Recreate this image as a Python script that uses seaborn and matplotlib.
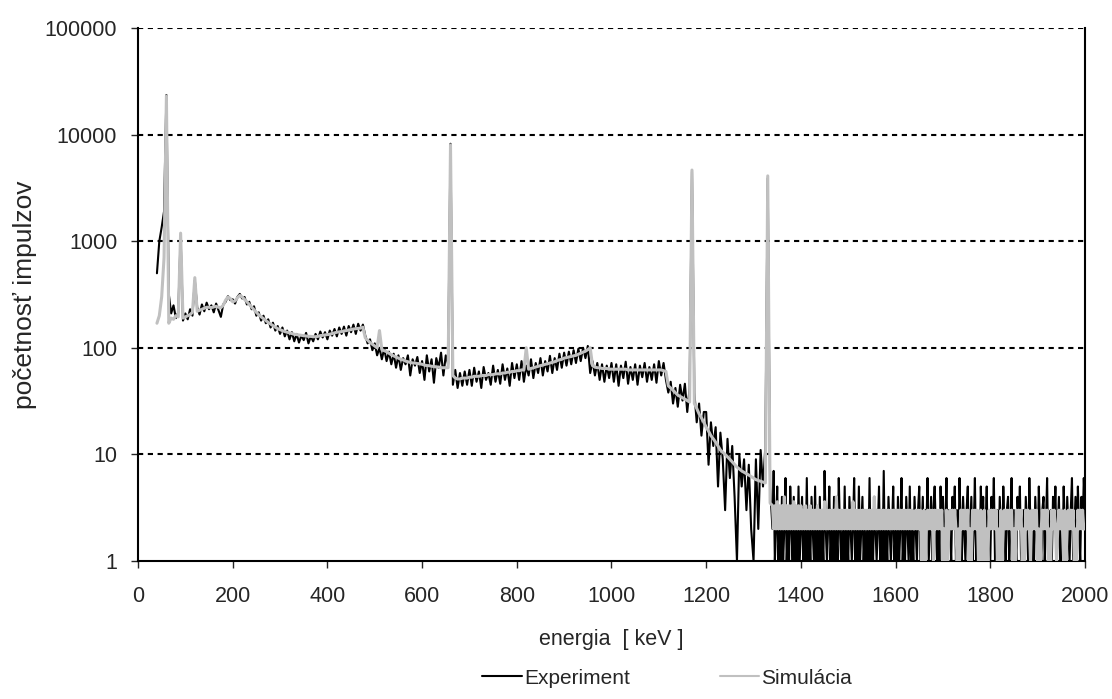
import numpy as np
import pandas as pd
import seaborn as sns
import matplotlib.pyplot as plt
from matplotlib.ticker import FixedLocator, FixedFormatter, NullLocator

# energia kanalov: krok 5 keV do 1335 keV, potom 2.5 keV
energia_hlavna = np.arange(40, 1336, 5)
energia_chvost = np.arange(1340, 2000.1, 2.5)

# Experiment - po 100 keV usekoch
exp_40 = [500, 1000, 1350, 1900, 23500, 320, 210, 250, 190, 215, 1100, 180]
exp_100 = [210, 185, 230, 200, 430, 240, 205, 255, 220, 265, 230, 250, 215, 260, 225, 195, 255, 270, 305, 280]
exp_200 = [285, 260, 300, 320, 290, 300, 255, 270, 230, 245, 200, 215, 180, 200, 170, 185, 155, 172, 145, 160]
exp_300 = [135, 155, 128, 145, 120, 140, 115, 135, 112, 130, 118, 138, 110, 128, 115, 135, 120, 142, 125, 140]
exp_400 = [120, 145, 130, 150, 128, 155, 135, 158, 130, 160, 140, 165, 135, 168, 145, 165, 130, 110, 120, 95]
exp_500 = [110, 85, 100, 78, 98, 75, 92, 70, 88, 65, 85, 62, 80, 70, 85, 55, 78, 68, 82, 58]
exp_600 = [75, 50, 85, 60, 78, 47, 80, 65, 90, 55, 85, 70, 8200, 45, 62, 42, 58, 44, 60, 45]
exp_700 = [62, 44, 65, 48, 60, 42, 66, 50, 58, 45, 68, 48, 62, 46, 70, 50, 64, 44, 72, 52]
exp_800 = [70, 50, 75, 48, 68, 55, 78, 52, 72, 58, 80, 55, 75, 60, 84, 58, 80, 62, 88, 65]
exp_900 = [90, 68, 92, 70, 95, 72, 98, 75, 100, 80, 104, 58, 75, 55, 72, 50, 70, 48, 68, 52]
exp_1000 = [72, 48, 70, 44, 68, 52, 74, 46, 66, 50, 70, 45, 68, 53, 72, 48, 66, 50, 70, 47]
exp_1100 = [75, 55, 72, 50, 38, 48, 30, 42, 28, 45, 32, 46, 25, 42, 4500, 38, 20, 30, 15, 25]
exp_1200 = [25, 8, 20, 12, 18, 5, 16, 9, 3, 14, 6, 12, 4, 1, 10, 5, 9, 3, 8, 2]
exp_1300 = [1, 9, 2, 11, 5, 12, 3900, 5]
# chvost 1340-2000 keV (krok 2.5 keV, po 50 keV)
exp_1340 = [2, 7, 1, 2, 5, 1, 2, 1, 4, 1, 2, 6, 1, 2, 1, 5, 2, 1, 4, 1]
exp_1390 = [2, 1, 5, 1, 2, 4, 1, 2, 1, 6, 1, 2, 1, 4, 2, 1, 5, 1, 2, 1]
exp_1440 = [4, 1, 2, 1, 7, 2, 1, 2, 5, 1, 2, 1, 4, 1, 2, 1, 6, 2, 1, 2]
exp_1490 = [1, 5, 1, 2, 1, 4, 2, 1, 2, 6, 1, 2, 1, 5, 1, 2, 4, 1, 2, 1]
exp_1540 = [2, 1, 6, 1, 2, 1, 4, 2, 1, 2, 5, 1, 2, 1, 7, 1, 2, 1, 4, 2]
exp_1590 = [1, 2, 5, 1, 2, 1, 4, 1, 2, 6, 1, 2, 1, 4, 2, 1, 5, 1, 2, 1]
exp_1640 = [4, 2, 1, 3, 5, 1, 2, 4, 1, 3, 2, 6, 1, 2, 4, 1, 3, 5, 2, 1]
exp_1690 = [3, 1, 5, 2, 4, 1, 2, 6, 1, 3, 2, 1, 4, 2, 5, 1, 3, 1, 6, 2]
exp_1740 = [1, 4, 2, 1, 3, 5, 1, 2, 4, 1, 2, 6, 1, 3, 2, 1, 5, 2, 4, 1]
exp_1790 = [2, 5, 1, 3, 1, 4, 2, 6, 1, 2, 3, 1, 4, 2, 1, 5, 2, 1, 3, 4]
exp_1840 = [1, 2, 6, 1, 3, 2, 1, 4, 2, 5, 1, 2, 3, 1, 4, 2, 1, 6, 2, 1]
exp_1890 = [3, 1, 4, 2, 1, 5, 2, 1, 3, 4, 1, 2, 6, 1, 2, 3, 1, 4, 2, 5]
exp_1940 = [1, 2, 4, 1, 3, 1, 5, 2, 1, 4, 2, 1, 3, 6, 1, 2, 4, 1, 5, 2]
exp_1990 = [1, 4, 2, 6, 3]

# Simulacia
sim_40 = [170, 200, 300, 700, 23000, 170, 190, 185, 200, 195, 1190, 190]
sim_100 = [195, 200, 205, 215, 455, 220, 225, 230, 235, 240, 240, 238, 242, 245, 240, 238, 250, 280, 300, 290]
sim_200 = [270, 275, 295, 310, 300, 285, 270, 255, 240, 228, 215, 204, 195, 188, 180, 173, 167, 161, 156, 151]
sim_300 = [148, 145, 142, 140, 138, 136, 134, 133, 132, 131, 130, 129, 128, 128, 127, 127, 128, 130, 131, 132]
sim_400 = [133, 134, 136, 138, 140, 141, 142, 144, 145, 147, 148, 150, 151, 152, 153, 156, 124, 118, 112, 108]
sim_500 = [104, 100, 145, 96, 94, 92, 89, 86, 84, 82, 80, 78, 77, 75, 74, 73, 72, 72, 71, 71]
sim_600 = [70, 69, 68, 68, 67, 67, 66, 66, 65, 65, 65, 65, 8000, 55, 52, 51, 51, 52, 52, 52]
sim_700 = [53, 53, 54, 54, 54, 55, 55, 55, 56, 56, 56, 57, 57, 57, 58, 58, 59, 59, 60, 60]
sim_800 = [61, 61, 62, 62, 100, 63, 64, 65, 66, 67, 68, 69, 70, 71, 72, 73, 74, 76, 77, 78]
sim_900 = [80, 81, 82, 83, 84, 85, 87, 89, 91, 93, 96, 100, 68, 66, 65, 65, 64, 64, 64, 63]
sim_1000 = [63, 63, 63, 63, 63, 63, 63, 62, 62, 62, 62, 62, 62, 62, 62, 62, 62, 62, 62, 62]
sim_1100 = [62, 62, 61, 60, 44, 42, 40, 38, 36, 35, 34, 33, 32, 31, 4650, 30, 27, 24, 22, 20]
sim_1200 = [18, 16.5, 15, 14, 13, 12, 11, 10.5, 10, 9.5, 9, 8.5, 8, 7.6, 7.3, 7, 6.8, 6.6, 6.4, 6.2]
sim_1300 = [6, 5.8, 5.7, 5.6, 5.5, 5.4, 4100, 3.5]
sim_1340 = [3.3, 2, 3.3, 2, 3.6, 2, 3.3, 2, 3.3, 2, 4, 2, 3.3, 2, 3.3, 2, 3.3, 2, 3.6, 2]
sim_1390 = [3.3, 2, 3.3, 2, 3.3, 2, 3, 2, 3.3, 2, 3, 2, 3.3, 2, 3, 2, 3, 2, 3.3, 2]
sim_1440 = [3, 2, 3, 2, 3.6, 2, 3, 2, 3, 2, 3, 2, 3, 2, 4, 2, 3, 2, 3, 2]
sim_1490 = [3, 2, 3, 2, 3, 2, 3, 2, 3.6, 2, 3, 2, 3, 2, 3, 2, 3, 2, 3, 2]
sim_1540 = [3, 2, 3, 2, 3, 2, 4, 2, 3, 2, 3, 2, 3, 2, 3, 2, 3, 2, 3, 2]
sim_1590 = [3, 2, 3, 2, 3, 2, 3, 2, 3, 2, 3, 2, 3, 2, 3, 2, 3, 2, 3, 2]
sim_1640 = [2, 3, 2, 3, 2, 3, 1, 2, 3, 1, 2, 3, 2, 3, 2, 3, 1, 3, 2, 3]
sim_1690 = [2, 3, 2, 3, 1, 2, 1, 3, 1, 2, 3, 2, 3, 2, 3, 2, 1, 2, 1, 3]
sim_1740 = [2, 3, 2, 3, 2, 3, 1, 2, 1, 3, 2, 3, 2, 3, 1, 2, 3, 1, 2, 3]
sim_1790 = [1, 2, 1, 3, 2, 3, 2, 3, 2, 3, 1, 2, 1, 3, 1, 2, 3, 2, 3, 2]
sim_1840 = [3, 2, 3, 1, 2, 1, 3, 2, 3, 2, 3, 1, 2, 1, 3, 2, 3, 2, 1, 3]
sim_1890 = [2, 3, 2, 3, 1, 2, 1, 2, 3, 2, 3, 2, 3, 1, 2, 1, 3, 2, 3, 2]
sim_1940 = [1, 2, 3, 2, 3, 2, 1, 3, 1, 2, 3, 2, 3, 2, 3, 1, 2, 1, 3, 2]
sim_1990 = [3, 2, 3, 2, 2]

experiment = (exp_40 + exp_100 + exp_200 + exp_300 + exp_400 + exp_500 + exp_600
              + exp_700 + exp_800 + exp_900 + exp_1000 + exp_1100 + exp_1200 + exp_1300
              + exp_1340 + exp_1390 + exp_1440 + exp_1490 + exp_1540 + exp_1590
              + exp_1640 + exp_1690 + exp_1740 + exp_1790 + exp_1840 + exp_1890
              + exp_1940 + exp_1990)
simulacia = (sim_40 + sim_100 + sim_200 + sim_300 + sim_400 + sim_500 + sim_600
             + sim_700 + sim_800 + sim_900 + sim_1000 + sim_1100 + sim_1200 + sim_1300
             + sim_1340 + sim_1390 + sim_1440 + sim_1490 + sim_1540 + sim_1590
             + sim_1640 + sim_1690 + sim_1740 + sim_1790 + sim_1840 + sim_1890
             + sim_1940 + sim_1990)

energia = np.concatenate([energia_hlavna, energia_chvost])
df = pd.DataFrame({'energia': energia, 'Experiment': experiment, 'Simulácia': simulacia})

y_ticks = [1, 10, 100, 1000, 10000, 100000]
x_ticks = [0, 200, 400, 600, 800, 1000, 1200, 1400, 1600, 1800, 2000]

sns.set_style('white')
plt.rcParams['font.family'] = ['Liberation Sans', 'DejaVu Sans']

fig = plt.figure(figsize=(11.12, 6.99), dpi=100)
ax = fig.add_axes([0.1241, 0.1974, 0.8516, 0.7626])

for v in y_ticks[1:]:
    ax.axhline(v, color='black', lw=1.5, linestyle=(0, (2.5, 2.2)), zorder=1)

sns.lineplot(data=df, x='energia', y='Experiment', color='black', lw=1.5,
             ax=ax, label='Experiment', zorder=2)
sns.lineplot(data=df, x='energia', y='Simulácia', color='#c0c0c0', lw=2.2,
             ax=ax, label='Simulácia', zorder=3)

ax.set_yscale('log')
ax.set_ylim(1, 100000)
ax.set_xlim(0, 2000)
ax.yaxis.set_major_locator(FixedLocator(y_ticks))
ax.yaxis.set_major_formatter(FixedFormatter([str(v) for v in y_ticks]))
ax.yaxis.set_minor_locator(NullLocator())
ax.set_xticks(x_ticks)
ax.set_xticklabels([str(v) for v in x_ticks])
ax.tick_params(axis='y', labelsize=15.5, length=5, width=1, direction='out', left=True, pad=10)
ax.tick_params(axis='x', labelsize=15.5, length=5, width=1, direction='out', bottom=True, pad=13)

for s in ['left', 'right', 'bottom']:
    ax.spines[s].set_color('black')
    ax.spines[s].set_linewidth(1.5)
ax.spines['top'].set_visible(False)

ax.set_xlabel('energia  [ keV ]', fontsize=15.5, labelpad=16)
ax.set_ylabel('početnosť impulzov', fontsize=19)
ax.yaxis.set_label_coords(-0.107, 0.5)

ax.get_legend().remove()
handles, labels = ax.get_legend_handles_labels()
leg = fig.legend(handles, labels, loc='center', bbox_to_anchor=(0.60, 0.03), ncol=2,
                 frameon=False, handlelength=1.9, handletextpad=0.1, columnspacing=4.3,
                 prop={'size': 15})
for line in leg.get_lines():
    line.set_linewidth(1.5)

plt.savefig('out.png', dpi=100)
plt.close()
